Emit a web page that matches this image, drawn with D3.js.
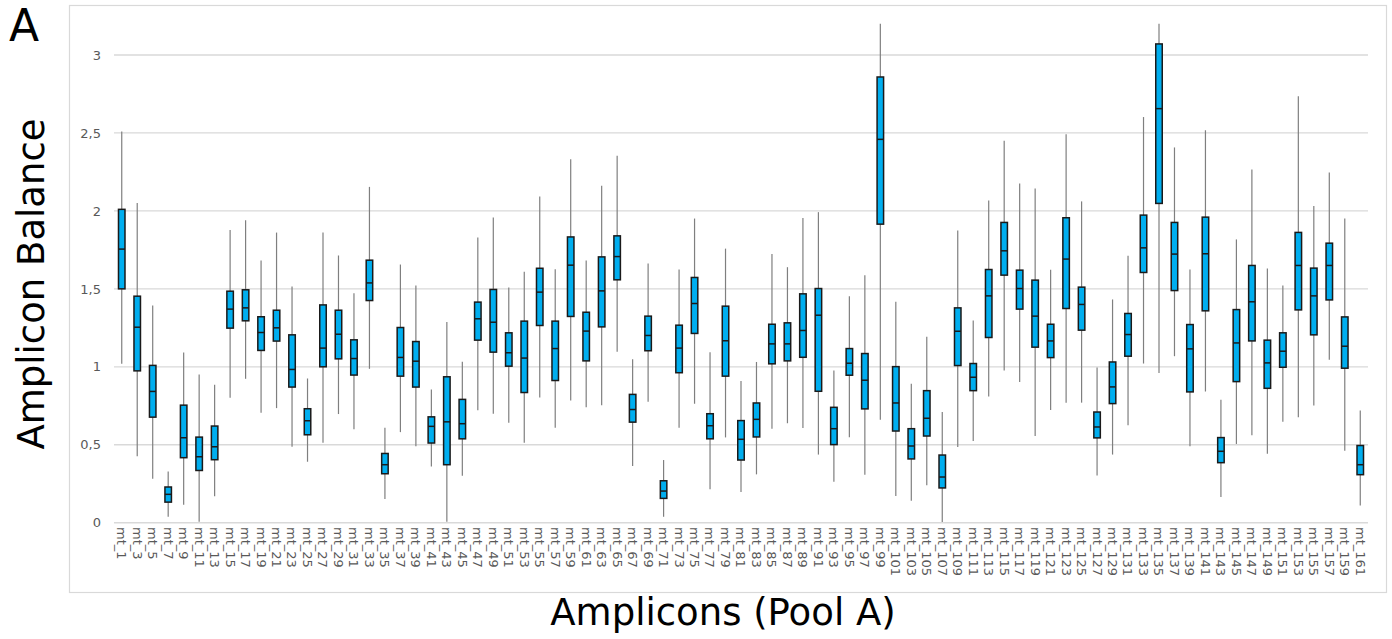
<!DOCTYPE html>
<html>
<head>
<meta charset="utf-8">
<script src="https://cdn.jsdelivr.net/npm/d3@7"></script>
<style>
  html, body { margin: 0; padding: 0; background: #fff; }
  svg { display: block; font-family: "DejaVu Sans", Verdana, sans-serif; }
</style>
</head>
<body>
<svg id="chart" width="1392" height="639"></svg>
<script>
// Amplicon balance per amplicon, Pool A (box = Q1..Q3, line = median, whisker = low..high)
const categories = [
  "mt_1","mt_3","mt_5","mt_7","mt_9","mt_11","mt_13","mt_15","mt_17","mt_19",
  "mt_21","mt_23","mt_25","mt_27","mt_29","mt_31","mt_33","mt_35","mt_37","mt_39",
  "mt_41","mt_43","mt_45","mt_47","mt_49","mt_51","mt_53","mt_55","mt_57","mt_59",
  "mt_61","mt_63","mt_65","mt_67","mt_69","mt_71","mt_73","mt_75","mt_77","mt_79",
  "mt_81","mt_83","mt_85","mt_87","mt_89","mt_91","mt_93","mt_95","mt_97","mt_99",
  "mt_101","mt_103","mt_105","mt_107","mt_109","mt_111","mt_113","mt_115","mt_117","mt_119",
  "mt_121","mt_123","mt_125","mt_127","mt_129","mt_131","mt_133","mt_135","mt_137","mt_139",
  "mt_141","mt_143","mt_145","mt_147","mt_149","mt_151","mt_153","mt_155","mt_157","mt_159",
  "mt_161"
];

const whiskerLow = [
  1.02,0.427,0.282,0.038,0.115,0.006,0.169,0.801,0.923,0.705,
  0.735,0.487,0.391,0.513,0.697,0.600,0.987,0.152,0.581,0.491,
  0.361,0.006,0.301,0.722,0.699,0.641,0.513,0.803,0.609,0.784,
  0.741,0.754,1.096,0.363,0.776,0.038,0.609,0.763,0.214,0.547,
  0.197,0.310,0.603,0.638,0.608,0.437,0.263,0.548,0.308,0.661,
  0.171,0.141,0.240,0.004,0.486,0.524,0.809,0.976,0.903,0.556,
  0.723,0.770,0.770,0.302,0.437,0.625,1.021,0.961,1.068,0.490,
  0.841,0.165,0.505,0.561,0.443,0.648,0.676,0.751,1.046,0.462,
  0.111
];

const q1 = [
  1.50,0.974,0.677,0.132,0.417,0.335,0.404,1.248,1.295,1.105,
  1.165,0.870,0.564,1.000,1.051,0.947,1.425,0.314,0.940,0.870,
  0.511,0.372,0.538,1.171,1.094,1.004,0.835,1.265,0.912,1.323,
  1.038,1.256,1.558,0.645,1.103,0.156,0.962,1.214,0.538,0.940,
  0.402,0.550,1.019,1.038,1.061,0.843,0.501,0.946,0.730,1.915,
  0.588,0.409,0.556,0.223,1.008,0.847,1.188,1.588,1.370,1.126,
  1.059,1.374,1.235,0.544,0.764,1.068,1.605,2.048,1.489,0.839,
  1.359,0.385,0.905,1.166,0.862,0.997,1.365,1.205,1.429,0.991,
  0.308
];

const median = [
  1.755,1.254,0.842,0.182,0.545,0.423,0.487,1.370,1.378,1.220,
  1.250,0.983,0.654,1.120,1.209,1.053,1.538,0.372,1.060,1.036,
  0.618,0.647,0.635,1.308,1.286,1.090,1.056,1.479,1.117,1.652,
  1.229,1.487,1.707,0.726,1.201,0.203,1.120,1.406,0.622,1.167,
  0.535,0.663,1.147,1.147,1.233,1.331,0.603,1.023,0.914,2.459,
  0.768,0.492,0.670,0.293,1.228,0.933,1.455,1.744,1.502,1.325,
  1.166,1.691,1.400,0.614,0.871,1.207,1.763,2.656,1.723,1.115,
  1.725,0.458,1.153,1.417,1.025,1.100,1.650,1.455,1.650,1.132,
  0.372
];

const q3 = [
  2.01,1.453,1.009,0.229,0.754,0.549,0.620,1.485,1.494,1.321,
  1.363,1.205,0.731,1.397,1.363,1.173,1.684,0.444,1.252,1.162,
  0.679,0.936,0.791,1.415,1.496,1.218,1.293,1.632,1.293,1.833,
  1.350,1.705,1.840,0.823,1.325,0.269,1.267,1.573,0.699,1.389,
  0.655,0.768,1.273,1.282,1.468,1.502,0.740,1.117,1.085,2.859,
  1.001,0.603,0.847,0.434,1.378,1.021,1.624,1.926,1.620,1.556,
  1.273,1.956,1.511,0.710,1.031,1.342,1.973,3.071,1.926,1.271,
  1.960,0.546,1.367,1.650,1.171,1.218,1.862,1.633,1.793,1.320,
  0.495
];

const whiskerHigh = [
  2.51,2.05,1.393,0.329,1.092,0.951,0.885,1.878,1.94,1.682,
  1.861,1.515,0.925,1.861,1.714,1.472,2.154,0.609,1.656,1.521,
  0.855,1.288,1.032,1.829,1.957,1.509,1.609,2.092,1.626,2.331,
  1.682,2.162,2.353,1.049,1.662,0.402,1.624,1.951,1.094,1.758,
  0.909,1.031,1.723,1.639,1.954,1.992,0.976,1.453,1.588,3.20,
  1.417,0.892,1.192,0.710,1.875,1.297,2.067,2.450,2.176,2.144,
  1.622,2.491,2.061,0.995,1.432,1.712,2.602,3.20,2.407,1.624,
  2.517,0.788,1.817,2.266,1.631,1.522,2.735,2.031,2.247,1.952,
  0.719
];

const yTicks = [0, 0.5, 1, 1.5, 2, 2.5, 3];

const rows = categories.map((c, i) => ({
  name: c, lo: whiskerLow[i], q1: q1[i], med: median[i], q3: q3[i], hi: whiskerHigh[i]
}));

const svg = d3.select("#chart");

// chart frame
svg.append("rect")
  .attr("x", 69.5).attr("y", 5.5)
  .attr("width", 1317).attr("height", 587)
  .attr("fill", "none").attr("stroke", "#d9d9d9").attr("stroke-width", 1.2);

const x = d3.scaleBand().domain(categories).range([114, 1368]).padding(0);
const y = d3.scaleLinear().domain([0, 3]).range([522.7, 55]);

const fmt = v => String(v).replace(".", ",");

// horizontal gridlines
svg.append("g")
  .selectAll("line")
  .data(yTicks)
  .join("line")
  .attr("x1", 114).attr("x2", 1368)
  .attr("y1", d => y(d)).attr("y2", d => y(d))
  .attr("stroke", "#d9d9d9")
  .attr("stroke-width", d => d === 0 ? 1.6 : 1.3);

// y axis labels
const yAxis = svg.append("g")
  .attr("transform", "translate(101,0)")
  .call(d3.axisLeft(y).tickValues(yTicks).tickFormat(fmt).tickSize(0).tickPadding(0));
yAxis.select(".domain").remove();
yAxis.selectAll("text")
  .attr("fill", "#595959")
  .style("font-size", "13px")
  .style("font-family", "'DejaVu Sans', Verdana, sans-serif");

// x axis labels, rotated
const xAxis = svg.append("g")
  .attr("transform", "translate(0,527)")
  .call(d3.axisBottom(x).tickSize(0).tickPadding(0));
xAxis.select(".domain").remove();
xAxis.selectAll("text")
  .attr("fill", "#595959")
  .style("font-size", "13px")
  .style("font-family", "'DejaVu Sans', Verdana, sans-serif")
  .attr("transform", "rotate(90)")
  .attr("x", 0).attr("y", 0).attr("dy", "0.35em")
  .attr("text-anchor", "start");

// boxes
const boxW = 6.5;
const g = svg.append("g");
const item = g.selectAll("g.box").data(rows).join("g").attr("class", "box");
const cx = d => x(d.name) + x.bandwidth() / 2;

item.append("line")
  .attr("x1", cx).attr("x2", cx)
  .attr("y1", d => y(d.hi)).attr("y2", d => y(d.lo))
  .attr("stroke", "#7f7f7f").attr("stroke-width", 1.2);

item.append("rect")
  .attr("x", d => cx(d) - boxW / 2)
  .attr("width", boxW)
  .attr("y", d => y(d.q3))
  .attr("height", d => y(d.q1) - y(d.q3))
  .attr("fill", "#00aeef")
  .attr("stroke", "#1a1a1a").attr("stroke-width", 1.5);

item.append("line")
  .attr("x1", d => cx(d) - boxW / 2).attr("x2", d => cx(d) + boxW / 2)
  .attr("y1", d => y(d.med)).attr("y2", d => y(d.med))
  .attr("stroke", "#1a1a1a").attr("stroke-width", 1.5);

// titles
svg.append("text")
  .attr("transform", "translate(44,284) rotate(-90)")
  .attr("text-anchor", "middle")
  .style("font-size", "37px")
  .attr("fill", "#000")
  .text("Amplicon Balance");

svg.append("text")
  .attr("x", 723).attr("y", 625)
  .attr("text-anchor", "middle")
  .style("font-size", "37px")
  .attr("fill", "#000")
  .text("Amplicons (Pool A)");

svg.append("text")
  .attr("x", 9).attr("y", 41)
  .style("font-size", "44px")
  .attr("fill", "#000")
  .text("A");
</script>
</body>
</html>
